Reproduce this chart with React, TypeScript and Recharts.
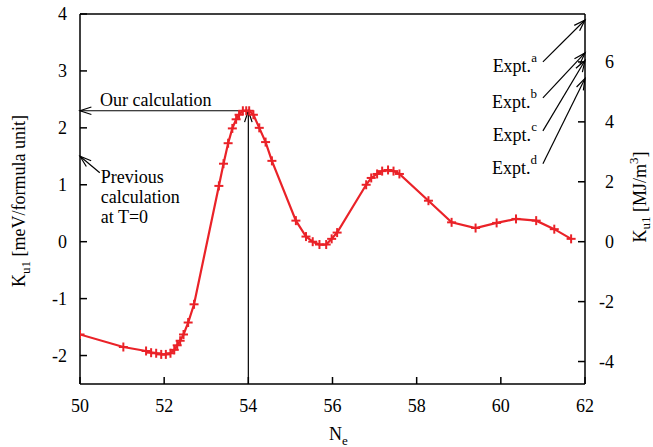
import React from 'react';
import {
  ComposedChart,
  Line,
  XAxis,
  YAxis,
  ReferenceLine
} from 'recharts';

// N_e values and K_u1 (meV / formula unit)
const neValues = [
  50.0, 51.03, 51.57, 51.69, 51.81, 51.93, 52.04, 52.15, 52.24, 52.31, 52.38, 52.46,
  52.57, 52.71, 53.3, 53.41, 53.52, 53.62, 53.71, 53.78, 53.87, 53.95, 54.02, 54.12,
  54.26, 54.41, 54.56, 55.13, 55.37, 55.53, 55.69, 55.85, 55.98, 56.11, 56.8, 56.92,
  57.06, 57.18, 57.32, 57.45, 57.59, 58.28, 58.83, 59.4, 59.9, 60.36, 60.84, 61.27, 61.67
];
const kuValues = [
  -1.63, -1.85, -1.92, -1.95, -1.96, -1.98, -1.98, -1.96, -1.9, -1.82, -1.74, -1.63,
  -1.42, -1.1, 0.98, 1.37, 1.73, 1.99, 2.15, 2.23, 2.3, 2.3, 2.3, 2.23,
  2.0, 1.75, 1.42, 0.37, 0.09, 0.0, -0.05, -0.05, 0.05, 0.16, 1.0, 1.12,
  1.19, 1.24, 1.26, 1.24, 1.19, 0.72, 0.34, 0.24, 0.33, 0.4, 0.37, 0.22, 0.05
];

const xTicks = [50, 52, 54, 56, 58, 60, 62];
const leftTicks = [-2, -1, 0, 1, 2, 3, 4];
const rightTicks = [-4, -2, 0, 2, 4, 6];

// 1 meV/formula unit = 1.9 MJ/m^3 on the right axis
const leftDomain = [-2.5, 4];
const rightDomain = [-4.75, 7.6];

// annotation values
const ourCalc = { ne: 54, k: 2.3 };
const prevCalc = { from: { ne: 50.47, k: 1.21 }, to: { ne: 50, k: 1.5 } };
const prevLines = ['Previous', 'calculation', 'at T=0'];

// experimental values on the right axis (MJ/m^3)
const exptLetters = ['a', 'b', 'c', 'd'];
const exptTextY = [6.0, 4.8, 3.7, 2.6];
const exptValues = [7.4, 6.3, 6.05, 5.45];

const data = neValues.map((ne, i) => ({ ne, k: kuValues[i] }));

const RED = '#ea2228';
const FONT = '"Liberation Serif", "Times New Roman", serif';
const txt = { fontFamily: FONT, fontSize: 18, fill: '#000' };

const Plus = (props: any) => {
  const { cx, cy } = props;
  if (cx == null || cy == null) return null;
  return (
    <g stroke={RED} strokeWidth={2}>
      <line x1={cx - 4.5} x2={cx + 4.5} y1={cy} y2={cy} />
      <line x1={cx} x2={cx} y1={cy - 4.5} y2={cy + 4.5} />
    </g>
  );
};

function arrowHead(x1: number, y1: number, x2: number, y2: number, len = 12, spread = 0.32) {
  const a = Math.atan2(y1 - y2, x1 - x2);
  const p1 = [x2 + len * Math.cos(a + spread), y2 + len * Math.sin(a + spread)];
  const p2 = [x2 + len * Math.cos(a - spread), y2 + len * Math.sin(a - spread)];
  return `M${p1[0]},${p1[1]} L${x2},${y2} L${p2[0]},${p2[1]}`;
}

const Arrow = (props: any) => {
  const { x1, y1, x2, y2, children, width = 1.2 } = props;
  return (
    <g>
      <line x1={x1} y1={y1} x2={x2} y2={y2} stroke="#000" strokeWidth={width} />
      <path d={arrowHead(x1, y1, x2, y2)} stroke="#000" strokeWidth={width} fill="none" />
      {children}
    </g>
  );
};

const LeftTick = (props: any) => {
  const { x, y, payload } = props;
  return (
    <g>
      <line x1={x} x2={x + 7} y1={y} y2={y} stroke="#000" strokeWidth={1.5} />
      <text x={x - 13} y={y + 6} textAnchor="end" style={txt}>
        {payload.value}
      </text>
    </g>
  );
};

const RightTick = (props: any) => {
  const { x, y, payload } = props;
  return (
    <g>
      <line x1={x} x2={x - 7} y1={y} y2={y} stroke="#000" strokeWidth={1.5} />
      <text x={x + 29} y={y + 6} textAnchor="end" style={txt}>
        {payload.value}
      </text>
    </g>
  );
};

const BottomTick = (props: any) => {
  const { x, y, payload } = props;
  return (
    <g>
      <line x1={x} x2={x} y1={y} y2={y - 7} stroke="#000" strokeWidth={1.5} />
      <text x={x} y={y + 28} textAnchor="middle" style={txt}>
        {payload.value}
      </text>
    </g>
  );
};

export default function App() {
  return (
    <div style={{ position: 'absolute', left: 0, top: 0, background: '#fff' }}>
      <ComposedChart
        width={653}
        height={447}
        data={data}
        margin={{ top: 14, right: 0, bottom: 0, left: 0 }}
      >
        <XAxis
          dataKey="ne"
          type="number"
          domain={[50, 62]}
          ticks={xTicks}
          height={63}
          tickSize={0}
          tickMargin={0}
          tick={<BottomTick />}
          axisLine={{ stroke: '#000', strokeWidth: 1.5 }}
          allowDataOverflow
          label={{
            content: (p: any) => {
              const vb = p.viewBox;
              return (
                <text x={vb.x + vb.width / 2 + 6} y={440} textAnchor="middle" style={txt}>
                  N<tspan dy={5} fontSize={13}>e</tspan>
                </text>
              );
            }
          }}
        />
        <YAxis
          yAxisId="left"
          domain={leftDomain}
          ticks={leftTicks}
          width={80}
          tickSize={0}
          tickMargin={0}
          tick={<LeftTick />}
          axisLine={{ stroke: '#000', strokeWidth: 1.5 }}
          allowDataOverflow
          label={{
            content: (p: any) => {
              const vb = p.viewBox;
              const cy = vb.y + vb.height / 2 + 2;
              return (
                <text
                  transform={`translate(25, ${cy}) rotate(-90)`}
                  textAnchor="middle"
                  style={txt}
                >
                  K<tspan dy={5} fontSize={13}>u1</tspan>
                  <tspan dy={-5}> [meV/formula unit]</tspan>
                </text>
              );
            }
          }}
        />
        <YAxis
          yAxisId="right"
          orientation="right"
          domain={rightDomain}
          ticks={rightTicks}
          width={68}
          tickSize={0}
          tickMargin={0}
          tick={<RightTick />}
          axisLine={{ stroke: '#000', strokeWidth: 1.5 }}
          allowDataOverflow
          label={{
            content: (p: any) => {
              const vb = p.viewBox;
              const cy = vb.y + vb.height / 2 - 2;
              return (
                <text
                  transform={`translate(646, ${cy}) rotate(-90)`}
                  textAnchor="middle"
                  style={txt}
                >
                  K<tspan dy={4} fontSize={13}>u1</tspan>
                  <tspan dy={-4}> [MJ/m</tspan>
                  <tspan dy={-8} fontSize={13}>3</tspan>
                  <tspan dy={8}>]</tspan>
                </text>
              );
            }
          }}
        />

        {/* top border */}
        <ReferenceLine yAxisId="left" y={4} stroke="#000" strokeWidth={1.5} ifOverflow="visible" />

        {/* our calculation: horizontal + vertical arrows */}
        <ReferenceLine
          yAxisId="left"
          ifOverflow="visible"
          segment={[{ x: ourCalc.ne, y: ourCalc.k }, { x: 50, y: ourCalc.k }]}
          shape={(p: any) => (
            <Arrow {...p}>
              <text x={p.x2 + 20} y={p.y2 - 5} style={txt}>
                Our calculation
              </text>
            </Arrow>
          )}
        />
        <ReferenceLine
          yAxisId="left"
          ifOverflow="visible"
          segment={[{ x: ourCalc.ne, y: leftDomain[0] }, { x: ourCalc.ne, y: ourCalc.k }]}
          shape={(p: any) => <Arrow {...p} />}
        />

        {/* previous calculation */}
        <ReferenceLine
          yAxisId="left"
          ifOverflow="visible"
          segment={[
            { x: prevCalc.from.ne, y: prevCalc.from.k },
            { x: prevCalc.to.ne, y: prevCalc.to.k }
          ]}
          shape={(p: any) => (
            <Arrow {...p}>
              {prevLines.map((t, i) => (
                <text key={t} x={p.x1 + 1} y={p.y1 + 10 + i * 20} style={txt}>
                  {t}
                </text>
              ))}
            </Arrow>
          )}
        />

        {/* experimental values */}
        {exptLetters.map((letter, i) => (
          <ReferenceLine
            key={letter}
            yAxisId="right"
            ifOverflow="visible"
            segment={[{ x: 61.0, y: exptTextY[i] }, { x: 62, y: exptValues[i] }]}
            shape={(p: any) => (
              <Arrow {...p}>
                <text x={p.x1 - 6} y={p.y1 + 10} textAnchor="end" style={txt}>
                  Expt.<tspan dy={-10} fontSize={13}>{letter}</tspan>
                </text>
              </Arrow>
            )}
          />
        ))}

        <Line
          yAxisId="left"
          dataKey="k"
          type="linear"
          stroke={RED}
          strokeWidth={2.2}
          dot={<Plus />}
          activeDot={false}
          isAnimationActive={false}
        />
      </ComposedChart>
    </div>
  );
}
